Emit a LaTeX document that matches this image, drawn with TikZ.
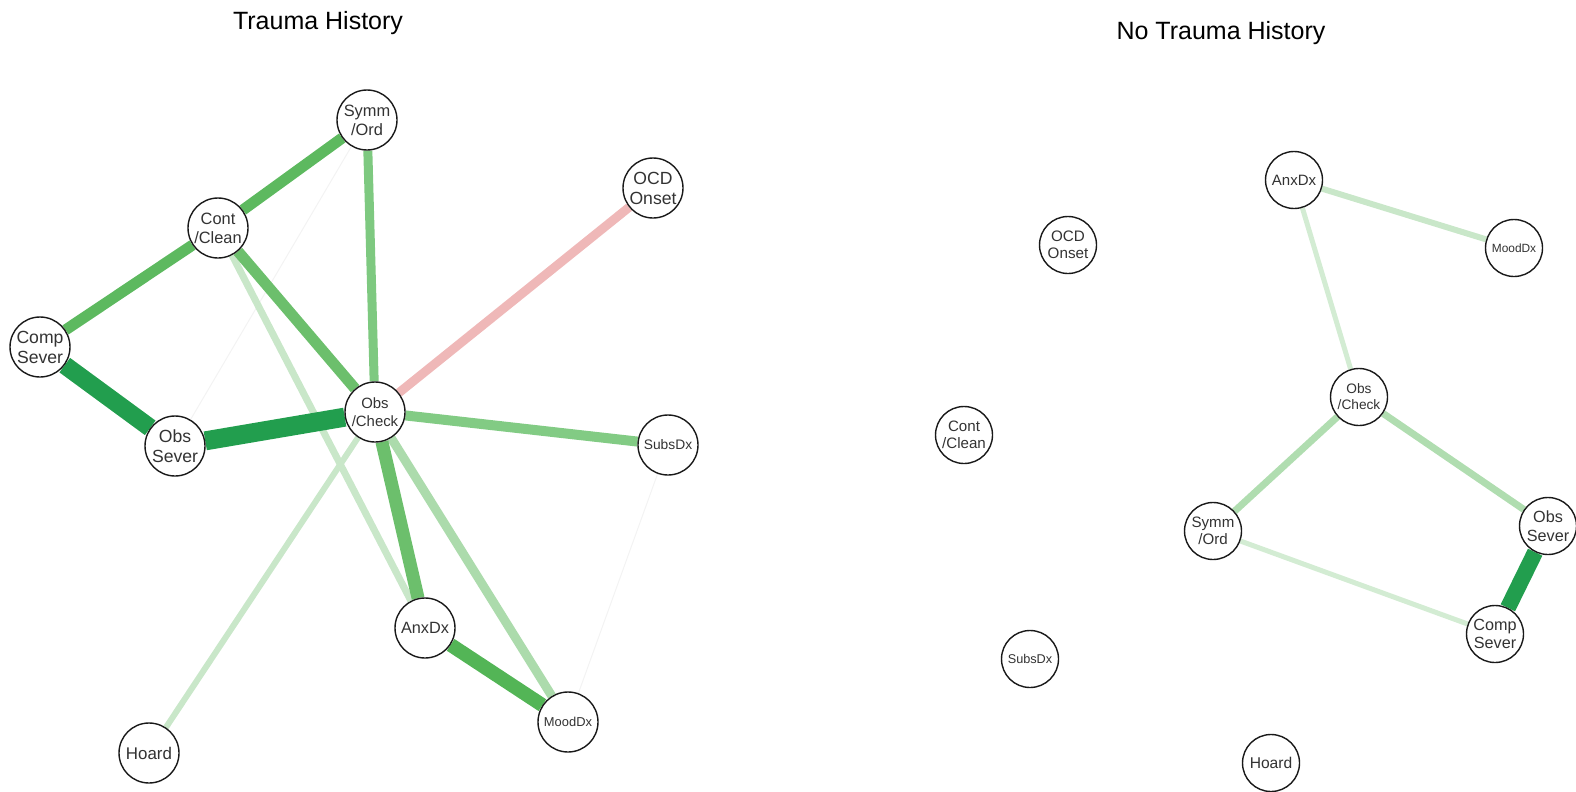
\documentclass[tikz,border=0pt]{standalone}
\usepackage{fontspec}
\setmainfont{Liberation Sans}
\usetikzlibrary{backgrounds}

% edge colours
\definecolor{edDark}{HTML}{229E4E}
\definecolor{edMidA}{HTML}{5DB95F}
\definecolor{edMidB}{HTML}{6CBF6C}
\definecolor{edAnxMood}{HTML}{53B556}
\definecolor{edMidC}{HTML}{82CB84}
\definecolor{edLight}{HTML}{ACDBAC}
\definecolor{edPale}{HTML}{C9E7C9}
\definecolor{edPaler}{HTML}{D3ECD3}
\definecolor{edNeg}{HTML}{EFB8B8}
\definecolor{edFaint}{HTML}{F3F3F3}
\definecolor{labcol}{HTML}{333333}

% font size with an explicit baseline skip
\newcommand{\fs}[2]{\fontsize{#1}{#2}\selectfont}

\tikzset{
  varL/.style={circle, draw=black!90, line width=1.4pt, fill=white,
    minimum size=60pt, inner sep=0pt, align=center, text=labcol},
  varR/.style={varL, minimum size=57pt},
  edge/.style={line cap=butt},
  ttl/.style={font=\fontsize{25}{28}\selectfont, text=black, anchor=base}
}

\begin{document}
\begin{tikzpicture}[x=1pt, y=-1pt]
\useasboundingbox (0,0) rectangle (1576,792);

% titles
\node[ttl] (t1) at (318,30) {Trauma History};
\node[ttl] (t2) at (1221,40) {No Trauma History};

% ---- network: trauma history ----
\node[varL, font=\fs{16.4}{18.8}] (aSym)  at (367,120) {Symm\\/Ord};
\node[varL, font=\fs{16.4}{18.8}] (aCont) at (218,228) {Cont\\/Clean};
\node[varL, font=\fs{17.6}{20}]   (aComp) at (40,347)  {Comp\\Sever};
\node[varL, font=\fs{17.6}{20}]   (aObsS) at (175,446) {Obs\\Sever};
\node[varL, font=\fs{14.9}{17.5}] (aObsC) at (375,412) {Obs\\/Check};
\node[varL, font=\fs{17.6}{20}]   (aOCD)  at (653,188) {OCD\\Onset};
\node[varL, font=\fs{13.8}{16}]   (aSubs) at (668,445) {SubsDx};
\node[varL, font=\fs{16.3}{18}]   (aAnx)  at (425,628) {AnxDx};
\node[varL, font=\fs{12.9}{15}]   (aMood) at (568,722) {MoodDx};
\node[varL, font=\fs{16.9}{19}]   (aHoard) at (149,753) {Hoard};

\begin{scope}[on background layer]
  \draw[edge, edFaint, line width=1pt] (aSym) -- (aObsS);
  \draw[edge, edFaint, line width=1pt] (aSubs) -- (aMood);
  \draw[edge, edPale, line width=6pt] (aObsC) -- (aHoard);
  \draw[edge, edPale, line width=7pt] (aCont) -- (aAnx);
  \draw[edge, edLight, line width=9pt] (aObsC) -- (aMood);
  \draw[edge, edNeg, line width=9pt] (aObsC) -- (aOCD);
  \draw[edge, edMidC, line width=10pt] (aObsC) -- (aSubs);
  \draw[edge, edMidC!90!edMidA, line width=9pt] (aSym) -- (aObsC);
  \draw[edge, edMidB, line width=11pt] (aCont) -- (aObsC);
  \draw[edge, edMidB, line width=13pt] (aObsC) -- (aAnx);
  \draw[edge, edAnxMood, line width=14pt] (aAnx) -- (aMood);
  \draw[edge, edMidA, line width=11pt] (aSym) -- (aCont);
  \draw[edge, edMidA, line width=11pt] (aCont) -- (aComp);
  \draw[edge, edDark, line width=18pt] (aComp) -- (aObsS);
  \draw[edge, edDark, line width=19pt] (aObsS) -- (aObsC);
\end{scope}

% ---- network: no trauma history ----
\node[varR, font=\fs{15.2}{17.5}] (bOCD)  at (1068,245) {OCD\\Onset};
\node[varR, font=\fs{15}{17}]     (bAnx)  at (1294,180) {AnxDx};
\node[varR, font=\fs{11.9}{14}]   (bMood) at (1514,248) {MoodDx};
\node[varR, font=\fs{13.7}{16}]   (bObsC) at (1359,397) {Obs\\/Check};
\node[varR, font=\fs{15.1}{17.5}] (bCont) at (964,435)  {Cont\\/Clean};
\node[varR, font=\fs{15.1}{17.5}] (bSym)  at (1213,531) {Symm\\/Ord};
\node[varR, font=\fs{16.2}{18.6}] (bObsS) at (1548,526) {Obs\\Sever};
\node[varR, font=\fs{16.2}{18.6}] (bComp) at (1495,634) {Comp\\Sever};
\node[varR, font=\fs{12.7}{14}]   (bSubs) at (1030,659) {SubsDx};
\node[varR, font=\fs{15.6}{17}]   (bHoard) at (1271,763) {Hoard};

\begin{scope}[on background layer]
  \draw[edge, edPale, line width=6pt] (bAnx) -- (bMood);
  \draw[edge, edPaler, line width=5pt] (bAnx) -- (bObsC);
  \draw[edge, edLight!85!edPale, line width=7pt] (bObsC) -- (bSym);
  \draw[edge, edLight!85!edPale, line width=7pt] (bObsC) -- (bObsS);
  \draw[edge, edPaler, line width=5pt] (bSym) -- (bComp);
  \draw[edge, edDark, line width=16pt] (bObsS) -- (bComp);
\end{scope}
\end{tikzpicture}
\end{document}
